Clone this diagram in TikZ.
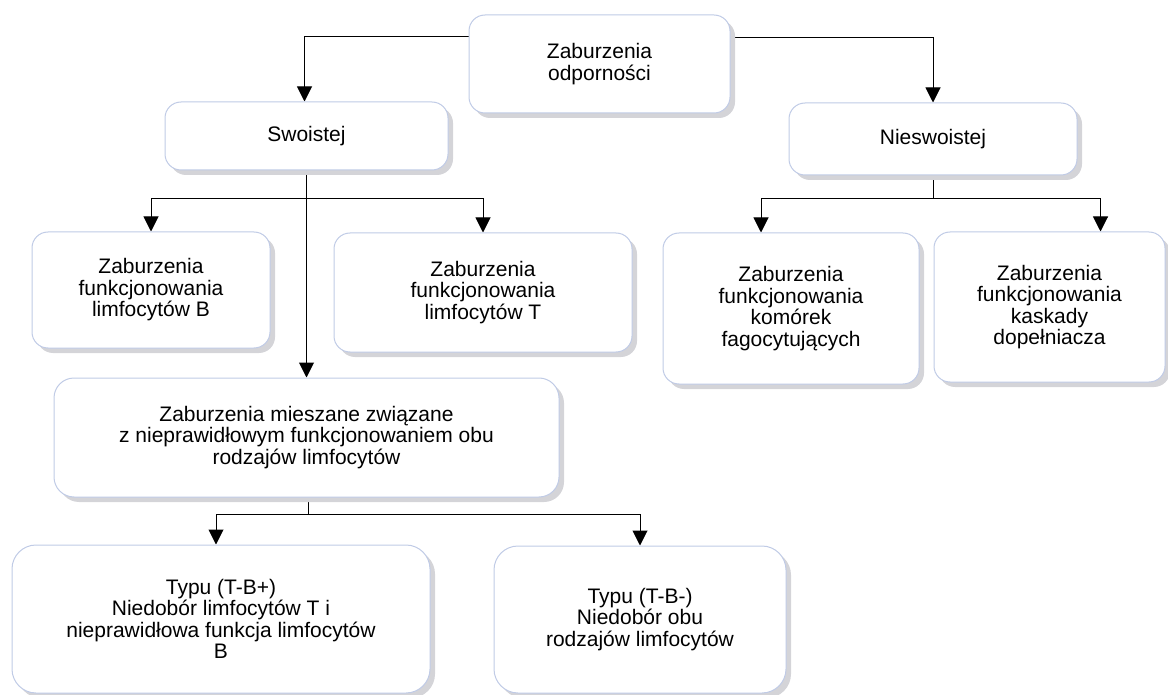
\documentclass[tikz,border=0pt]{standalone}
\usepackage{fontspec}
\setmainfont{Liberation Sans}
\usetikzlibrary{arrows.meta,shadows,backgrounds}
\definecolor{boxborder}{RGB}{192,203,230}
\definecolor{shadowgray}{RGB}{212,212,216}
\begin{document}
\begin{tikzpicture}[x=1pt,y=-1pt,
  box/.style={draw=boxborder,line width=1pt,fill=white,rounded corners=16pt,
    align=center,inner sep=0pt,
    font=\fontsize{21}{21.5}\selectfont,
    drop shadow={shadow xshift=5pt,shadow yshift=-5pt,fill=shadowgray,opacity=1}},
  conn/.style={draw=black,line width=1pt},
  arr/.style={conn,-{Triangle[width=15pt,length=15pt]}}]
\useasboundingbox (0,0) rectangle (1168,695);
\node[box,minimum width=261pt,minimum height=98pt] (top) at (599.5,64) {Zaburzenia\\odporności};
\node[box,minimum width=283pt,minimum height=68pt] (swo) at (306.5,136) {Swoistej};
\node[box,minimum width=288pt,minimum height=72pt] (nies) at (933,139) {Nieswoistej};
\node[box,minimum width=238pt,minimum height=116pt] (lb) at (151,290) {Zaburzenia\\funkcjonowania\\limfocytów B};
\node[box,minimum width=298pt,minimum height=119pt] (lt) at (483,292.5) {Zaburzenia\\funkcjonowania\\limfocytów T};
\node[box,minimum width=256pt,minimum height=151pt] (ph) at (791,308.5) {Zaburzenia\\funkcjonowania\\komórek\\fagocytujących};
\node[box,minimum width=231pt,minimum height=150pt] (ka) at (1049.5,307) {Zaburzenia\\funkcjonowania\\kaskady\\dopełniacza};
\node[box,rounded corners=20pt,minimum width=505pt,minimum height=119pt] (mies) at (306.5,437.5) {Zaburzenia mieszane związane\\z nieprawidłowym funkcjonowaniem obu\\rodzajów limfocytów};
\node[box,rounded corners=24pt,minimum width=418pt,minimum height=148pt] (tbp) at (221,619) {Typu (T-B+)\\Niedobór limfocytów T i\\nieprawidłowa funkcja limfocytów\\B};
\node[box,rounded corners=24pt,minimum width=292pt,minimum height=147pt] (tbm) at (640,619.5) {Typu (T-B-)\\Niedobór obu\\rodzajów limfocytów};
\begin{scope}[on background layer]
\draw[arr] ([yshift=27pt]top.west) -| ([xshift=-2pt]swo.north);
\draw[arr] ([yshift=26pt]top.east) -| (nies.north);
\draw[arr] (swo.south) -- (mies.north);
\path (swo.south) ++(0,28) coordinate (sj);
\draw[arr] (sj) -| (lb.north);
\draw[arr] (sj) -| (lt.north);
\draw[conn] (nies.south) -- ++(0,23) coordinate (nj);
\draw[arr] (nj) -| ([xshift=-30pt]ph.north);
\draw[arr] (nj) -| ([xshift=51pt]ka.north);
\draw[conn] ([xshift=1.5pt]mies.south) -- ++(0,17) coordinate (mj);
\draw[arr] (mj) -| ([xshift=-5pt]tbp.north);
\draw[arr] (mj) -| (tbm.north);
\end{scope}
\end{tikzpicture}
\end{document}
